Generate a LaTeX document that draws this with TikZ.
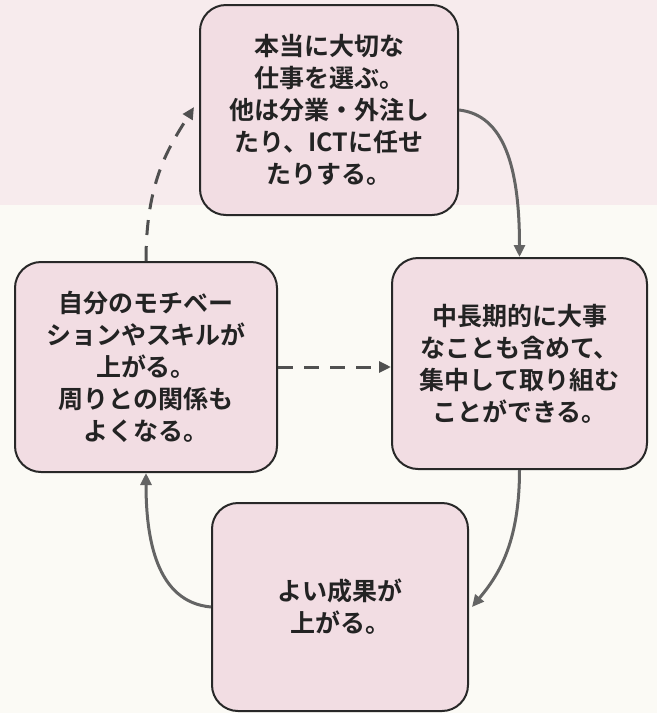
\documentclass[tikz,border=0pt]{standalone}
\usepackage{fontspec}
\setmainfont{Noto Sans CJK JP}[BoldFont={Noto Sans CJK JP Bold}]
\usetikzlibrary{arrows.meta,calc}
\definecolor{bgtop}{RGB}{247,235,237}
\definecolor{bgbot}{RGB}{251,250,245}
\definecolor{boxfill}{RGB}{242,221,227}
\definecolor{boxline}{RGB}{40,40,40}
\definecolor{arrgray}{RGB}{100,100,100}
\definecolor{dashgray}{RGB}{80,80,80}
\definecolor{txt}{RGB}{35,35,35}
\begin{document}
\begin{tikzpicture}[x=1pt,y=-1pt,
  stepbox/.style={draw=boxline, line width=2pt, fill=boxfill, rounded corners=26pt,
    align=center, font=\bfseries\fontsize{25}{32}\selectfont, text=txt, inner sep=0pt},
  flow/.style={draw=arrgray, line width=3pt, -{Triangle[length=12pt,width=11pt]}},
  dflow/.style={flow, draw=dashgray, dash pattern=on 15pt off 11pt}]
\useasboundingbox (0,0) rectangle (657,713);
\fill[bgbot] (0,0) rectangle (657,713);
\fill[bgtop] (0,0) rectangle (657,205);

\node[stepbox, minimum width=258pt, minimum height=210pt] (top) at (329,110)
  {本当に大切な\\仕事を選ぶ。\\他は分業・外注し\\たり、ICTに任せ\\たりする。};
\node[stepbox, minimum width=262pt, minimum height=210pt] (left) at (146,367)
  {自分のモチベー\\ションやスキルが\\上がる。\\周りとの関係も\\よくなる。};
\node[stepbox, minimum width=255pt, minimum height=211pt] (right) at (519.5,363.5)
  {中長期的に大事\\なことも含めて、\\集中して取り組む\\ことができる。};
\node[stepbox, minimum width=256pt, minimum height=208pt] (bottom) at (340,607)
  {よい成果が\\上がる。};

\draw[flow] (top.east) .. controls +(45,5) and +(0,-90) .. (right.north);
\draw[flow] (right.south) .. controls +(0,75) and +(25,-30) .. ([xshift=3pt]bottom.east);
\draw[flow] (bottom.west) .. controls +(-55,-5) and +(0,65) .. (left.south);
\draw[dflow] (left.north) .. controls +(0,-80) and +(-25,40) .. ([xshift=-5pt,yshift=3pt]top.west);
\draw[dflow] (left.east) -- (left.east -| right.west);
\end{tikzpicture}
\end{document}
